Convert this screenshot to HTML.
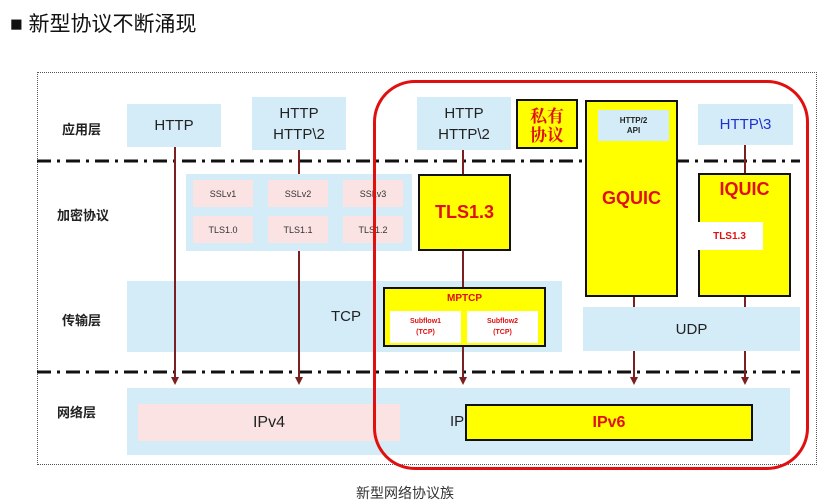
<!DOCTYPE html>
<html><head><meta charset="utf-8"><style>
body{margin:0;width:838px;height:502px;background:#fff;position:relative;overflow:hidden;font-family:"Liberation Sans","Noto Sans CJK SC",sans-serif}
div{position:absolute;box-sizing:border-box}
.b{background:#d4ecf8;display:flex;align-items:center;justify-content:center;text-align:center;color:#222;font-size:15px;line-height:21px}
.p{background:#fbe3e3;display:flex;align-items:center;justify-content:center;font-size:9px;color:#333}
.y{background:#ffff00;border:2px solid #111;color:#e01010;font-weight:bold;display:flex;align-items:center;justify-content:center;text-align:center}
.lab{font-size:13px;font-weight:bold;color:#222}
.v{width:2px;background:#7a2020}
.ar{width:0;height:0;border-left:4px solid transparent;border-right:4px solid transparent;border-top:8px solid #7a2020}
</style></head><body>
<div style="left:10px;top:8px;font-size:21px;color:#111">■ 新型协议不断涌现</div>
<div style="left:37px;top:72px;width:780px;height:393px;border:1px dotted #555"></div>

<div class="lab" style="left:62px;top:119px">应用层</div>
<div class="lab" style="left:57px;top:205px">加密协议</div>
<div class="lab" style="left:62px;top:310px">传输层</div>
<div class="lab" style="left:57px;top:402px">网络层</div>

<svg style="position:absolute;left:0;top:0" width="838" height="502"><line x1="37" y1="161" x2="800" y2="161" stroke="#111" stroke-width="3" stroke-dasharray="14,6,3,6"/><line x1="37" y1="372" x2="800" y2="372" stroke="#111" stroke-width="3" stroke-dasharray="14,6,3,6"/></svg>

<div class="b" style="left:127px;top:104px;width:94px;height:43px">HTTP</div>
<div class="b" style="left:252px;top:97px;width:94px;height:53px">HTTP<br>HTTP\2</div>
<div class="b" style="left:186px;top:174px;width:226px;height:77px"></div>
<div class="p" style="left:193px;top:180px;width:60px;height:27px">SSLv1</div>
<div class="p" style="left:268px;top:180px;width:60px;height:27px">SSLv2</div>
<div class="p" style="left:343px;top:180px;width:60px;height:27px">SSLv3</div>
<div class="p" style="left:193px;top:216px;width:60px;height:27px">TLS1.0</div>
<div class="p" style="left:268px;top:216px;width:60px;height:27px">TLS1.1</div>
<div class="p" style="left:343px;top:216px;width:60px;height:27px">TLS1.2</div>
<div class="b" style="left:127px;top:281px;width:435px;height:71px;padding-left:0"><span style="position:absolute;left:204px;top:25px">TCP</span></div>
<div class="b" style="left:127px;top:388px;width:663px;height:67px"></div>
<div class="p" style="left:138px;top:404px;width:262px;height:37px;font-size:16px;color:#222">IPv4</div>
<div style="left:450px;top:413px;font-size:15px;color:#222">IP</div>

<div class="v" style="left:174px;top:147px;height:230px"></div><div class="ar" style="left:171px;top:377px"></div>
<div class="v" style="left:298px;top:150px;height:24px"></div><div class="v" style="left:298px;top:251px;height:126px"></div><div class="ar" style="left:295px;top:377px"></div>
<div class="v" style="left:462px;top:150px;height:227px"></div><div class="ar" style="left:459px;top:377px"></div>
<div class="v" style="left:633px;top:297px;height:80px"></div><div class="ar" style="left:630px;top:377px"></div>
<div class="v" style="left:744px;top:145px;height:232px"></div><div class="ar" style="left:741px;top:377px"></div>

<div class="b" style="left:417px;top:97px;width:94px;height:53px">HTTP<br>HTTP\2</div>
<div class="y" style="left:516px;top:99px;width:62px;height:50px;font-family:'Noto Serif CJK SC',serif;font-size:17px;line-height:19px">私有<br>协议</div>
<div class="y" style="left:585px;top:100px;width:93px;height:197px;font-size:18px">GQUIC</div>
<div class="b" style="left:598px;top:110px;width:71px;height:31px;font-size:8px;line-height:10px;font-weight:bold">HTTP/2<br>API</div>
<div class="b" style="left:698px;top:104px;width:95px;height:41px;color:#2030d0">HTTP\3</div>
<div class="y" style="left:418px;top:174px;width:93px;height:77px;font-size:18px">TLS1.3</div>
<div class="y" style="left:698px;top:173px;width:93px;height:124px;font-size:18px;align-items:flex-start;padding-top:4px">IQUIC</div>
<div style="left:696px;top:222px;width:67px;height:28px;background:#fff;color:#e01010;font-weight:bold;font-size:10px;display:flex;align-items:center;justify-content:center">TLS1.3</div>
<div class="b" style="left:583px;top:307px;width:217px;height:44px">UDP</div>
<div class="y" style="left:383px;top:287px;width:163px;height:60px;font-size:10px;align-items:flex-start;padding-top:4px">MPTCP</div>
<div style="left:390px;top:311px;width:71px;height:32px;background:#fff;color:#e01010;font-size:7px;font-weight:bold;text-align:center;line-height:11px;padding-top:5px">Subflow1<br>(TCP)</div>
<div style="left:467px;top:311px;width:71px;height:32px;background:#fff;color:#e01010;font-size:7px;font-weight:bold;text-align:center;line-height:11px;padding-top:5px">Subflow2<br>(TCP)</div>
<div class="y" style="left:465px;top:404px;width:288px;height:37px;font-size:16px">IPv6</div>

<div style="left:373px;top:80px;width:436px;height:390px;border:3px solid #e01010;border-radius:42px"></div>
<div style="left:356px;top:483px;font-size:14px;color:#333">新型网络协议族</div>
</body></html>
